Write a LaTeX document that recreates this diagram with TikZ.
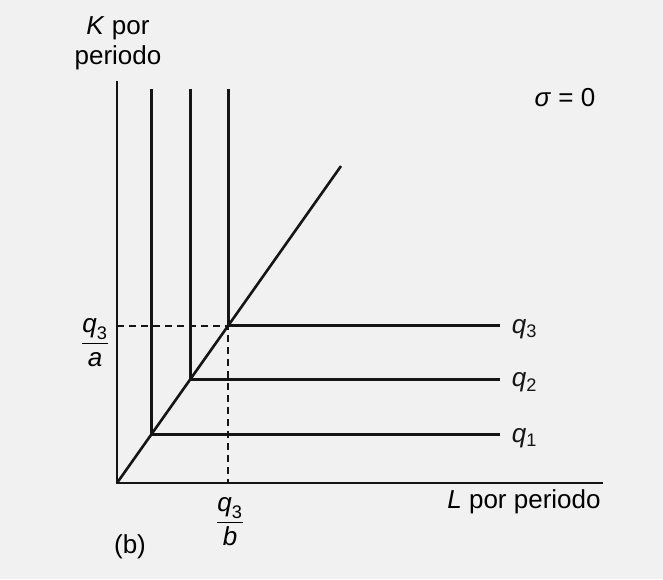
\documentclass[tikz,border=0pt]{standalone}
\usepackage{amsmath}
\usepackage{fontspec}
\setmainfont{Liberation Sans}
\usepackage{tikz}
\usetikzlibrary{positioning, calc}
\definecolor{paperc}{HTML}{F1F1F1}
\definecolor{inkc}{HTML}{151515}
\tikzset{
  axisline/.style={inkc, line width=2.1pt},
  isoline/.style={inkc, line width=3pt},
  rayline/.style={inkc, line width=2.6pt},
  guideline/.style={inkc, line width=1.5pt, dash pattern=on 7pt off 5pt},
}
% one L-shaped isoquant: name, corner x, label
\newcommand{\isoquant}[3]{%
  \coordinate (#1) at (#2, {96+(#2-117)*1.415});
  \draw[isoline] (#1 |- top) -- (#1) -- (#1 -| qend)
    node[anchor=west, xshift=7pt, yshift=-3pt] (#1lab) {#3};
}

\begin{document}
\begin{tikzpicture}[x=1pt, y=1pt, font=\fontsize{26}{30}\selectfont]
  \fill[paperc] (0,0) rectangle (663,579);
  \useasboundingbox (0,0) rectangle (663,579);
  \coordinate (O) at (117,96);
  \coordinate (Kend) at (117,498);
  \coordinate (Lend) at (603,96);
  \coordinate (top) at (117,490);
  \coordinate (qend) at (500,96);
  \coordinate (rayend) at (341,{96+224*1.415});
  % axes and ray
  \draw[axisline] (Kend) -- (O) -- (Lend);
  \draw[rayline] (O) -- (rayend);
  % isoquants
  \isoquant{c1}{151}{\textit{q}\textsubscript{1}}
  \isoquant{c2}{190}{\textit{q}\textsubscript{2}}
  \isoquant{c3}{228}{\textit{q}\textsubscript{3}}
  \draw[guideline] (c3 -| O) -- (c3) -- (c3 |- O);
  % labels
  \node[align=center] (klab) at (118,536) {\textit{K} por\\periodo};
  \node (llab) at (524,77) {\textit{L} por periodo};
  \node (sigma) at (565,481) {\textit{σ} = 0};
  \node (qa) at (95,236) {$\dfrac{\textit{q}_{\text{3}}}{\textit{a}}$};
  \node (qb) at (230,57) {$\dfrac{\textit{q}_{\text{3}}}{\textit{b}}$};
  \node (panel) at (130,32) {(b)};
\end{tikzpicture}
\end{document}
